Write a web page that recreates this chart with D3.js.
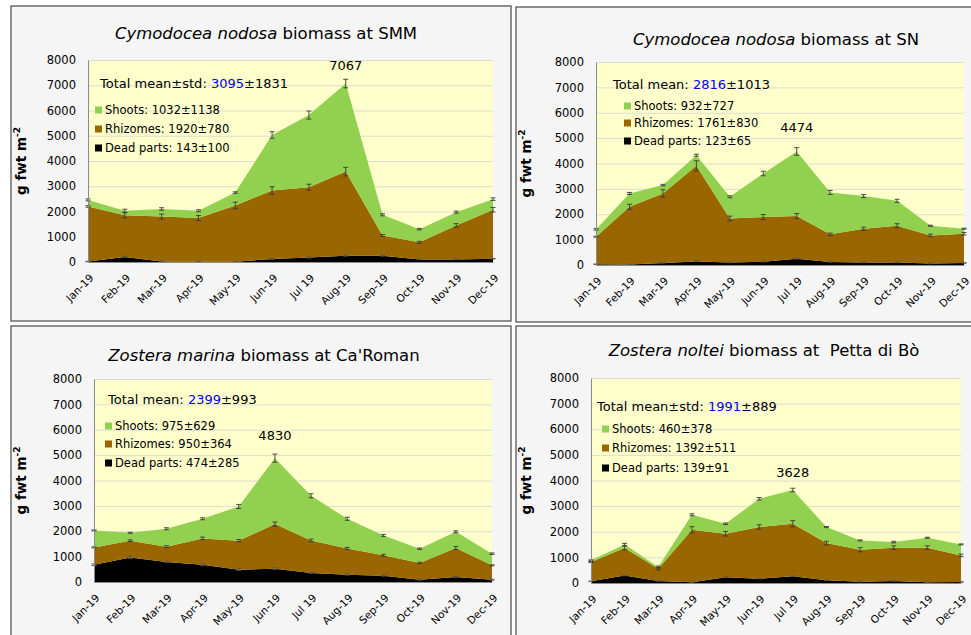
<!DOCTYPE html>
<html>
  <head>
    <meta charset="utf-8">
    <title>Seagrass biomass 2019</title>
    <style>
      body { margin: 0; background: #ffffff; }
      text { font-family: "DejaVu Sans", Verdana, sans-serif; }
    </style>
  </head>
  <body>
    <script src="https://cdn.jsdelivr.net/npm/d3@7"></script>
    <script type="text/javascript">
      var months = ["Jan-19", "Feb-19", "Mar-19", "Apr-19", "May-19", "Jun-19",
                    "Jul 19", "Aug-19", "Sep-19", "Oct-19", "Nov-19", "Dec-19"];
      var yTicks = [0, 1000, 2000, 3000, 4000, 5000, 6000, 7000, 8000];

      // Cymodocea nodosa, SMM
      var smmDead   = [20, 200, 20, 10, 10, 120, 180, 250, 250, 100, 100, 130];
      var smmRhiz   = [2180, 1650, 1780, 1730, 2230, 2710, 2780, 3330, 800, 680, 1350, 1940];
      var smmShoots = [260, 180, 300, 290, 510, 2200, 2860, 3487, 820, 520, 525, 420];
      var smmErrDead  = [10, 20, 10, 10, 10, 20, 20, 20, 20, 10, 10, 10];
      var smmErrRhiz  = [30, 100, 100, 100, 130, 150, 120, 170, 40, 40, 70, 90];
      var smmErrTotal = [40, 60, 50, 40, 30, 130, 160, 170, 40, 30, 40, 50];

      // Cymodocea nodosa, SN
      var snDead   = [30, 20, 80, 140, 100, 130, 250, 120, 100, 100, 60, 80];
      var snRhiz   = [1085, 2275, 2740, 3768, 1736, 1759, 1678, 1087, 1330, 1448, 1107, 1153];
      var snShoots = [288, 525, 328, 420, 853, 1718, 2546, 1652, 1285, 983, 381, 197];
      var snErrDead  = [10, 10, 10, 10, 10, 10, 20, 10, 10, 10, 10, 10];
      var snErrRhiz  = [20, 100, 150, 200, 90, 100, 100, 50, 60, 80, 50, 50];
      var snErrTotal = [30, 40, 30, 40, 40, 90, 150, 80, 60, 60, 20, 20];

      // Zostera marina, Ca'Roman
      var crDead   = [680, 970, 790, 680, 485, 525, 354, 290, 250, 90, 200, 90];
      var crRhiz   = [684, 656, 600, 1038, 1141, 1757, 1286, 1035, 800, 660, 1138, 566];
      var crShoots = [669, 315, 708, 774, 1351, 2599, 1757, 1167, 786, 561, 642, 459];
      var crErrDead  = [30, 50, 30, 40, 30, 30, 20, 20, 20, 20, 20, 20];
      var crErrRhiz  = [20, 30, 40, 50, 50, 80, 50, 40, 40, 30, 60, 20];
      var crErrTotal = [20, 20, 40, 40, 80, 160, 80, 60, 40, 30, 40, 30];

      // Zostera noltei, Petta di Bò
      var pbDead   = [65, 290, 80, 26, 220, 169, 260, 104, 52, 78, 26, 39];
      var pbRhiz   = [753, 1074, 478, 2052, 1702, 2013, 2052, 1454, 1247, 1299, 1351, 1039];
      var pbShoots = [65, 142, 65, 584, 390, 1104, 1316, 624, 363, 220, 389, 428];
      var pbErrDead  = [10, 10, 10, 10, 10, 10, 10, 10, 10, 10, 10, 10];
      var pbErrRhiz  = [20, 80, 50, 120, 90, 90, 120, 70, 80, 70, 70, 50];
      var pbErrTotal = [20, 40, 40, 40, 30, 50, 70, 20, 20, 30, 20, 20];

      var layerKeys = ["dead", "rhiz", "shoots"];
      var layerColors = { dead: "#000000", rhiz: "#996600", shoots: "#92d050" };

      var panels = [
        { species: "Cymodocea nodosa", site: " biomass at SMM",
          dead: smmDead, rhiz: smmRhiz, shoots: smmShoots,
          errDead: smmErrDead, errRhiz: smmErrRhiz, errTotal: smmErrTotal,
          totalLabel: "Total mean\u00b1std: ", mean: "3095", std: "\u00b11831",
          legend: ["Shoots: 1032\u00b11138", "Rhizomes: 1920\u00b1780", "Dead parts: 143\u00b1100"],
          peak: 7, peakText: "7067", peakDy: -14,
          frame: [11, 6, 500, 315], plot: [88, 60, 493, 262],
          titleX: 266, titleY: 39, totalX: 100, totalY: 88, legX: 95, legY: [110, 129, 148] },
        { species: "Cymodocea nodosa", site: " biomass at SN",
          dead: snDead, rhiz: snRhiz, shoots: snShoots,
          errDead: snErrDead, errRhiz: snErrRhiz, errTotal: snErrTotal,
          totalLabel: "Total mean: ", mean: "2816", std: "\u00b11013",
          legend: ["Shoots: 932\u00b1727", "Rhizomes: 1761\u00b1830", "Dead parts: 123\u00b165"],
          peak: 6, peakText: "4474", peakDy: -19,
          frame: [516, 7, 470, 315], plot: [596, 62, 964, 265],
          titleX: 776, titleY: 45, totalX: 613, totalY: 89, legX: 624, legY: [106, 123, 141] },
        { species: "Zostera marina", site: " biomass at Ca'Roman",
          dead: crDead, rhiz: crRhiz, shoots: crShoots,
          errDead: crErrDead, errRhiz: crErrRhiz, errTotal: crErrTotal,
          totalLabel: "Total mean: ", mean: "2399", std: "\u00b1993",
          legend: ["Shoots: 975\u00b1629", "Rhizomes: 950\u00b1364", "Dead parts: 474\u00b1285"],
          peak: 5, peakText: "4830", peakDy: -18,
          frame: [11, 326, 500, 330], plot: [94, 379, 492, 582],
          titleX: 264, titleY: 361, totalX: 108, totalY: 404, legX: 105, legY: [426, 444, 463] },
        { species: "Zostera noltei", site: " biomass at \u00a0Petta di B\u00f2",
          dead: pbDead, rhiz: pbRhiz, shoots: pbShoots,
          errDead: pbErrDead, errRhiz: pbErrRhiz, errTotal: pbErrTotal,
          totalLabel: "Total mean\u00b1std: ", mean: "1991", std: "\u00b1889",
          legend: ["Shoots: 460\u00b1378", "Rhizomes: 1392\u00b1511", "Dead parts: 139\u00b191"],
          peak: 6, peakText: "3628", peakDy: -13,
          frame: [516, 326, 470, 330], plot: [591, 378, 961, 583],
          titleX: 764, titleY: 356, totalX: 597, totalY: 411, legX: 602, legY: [429, 448, 468] }
      ];

      var width = 971;
      var height = 635;
      var svg = d3.select("body")
                  .append("svg")
                  .attr("width", width)
                  .attr("height", height);

      panels.forEach(drawPanel);

      function drawPanel(p) {
        var g = svg.append("g");
        var left = p.plot[0], top = p.plot[1], right = p.plot[2], bottom = p.plot[3];

        g.append("rect")
         .attr("x", p.frame[0]).attr("y", p.frame[1])
         .attr("width", p.frame[2]).attr("height", p.frame[3])
         .attr("fill", "#f5f5f5")
         .attr("stroke", "#555555")
         .attr("stroke-width", 1.3);

        var x = d3.scalePoint().domain(months).range([left, right]);
        var y = d3.scaleLinear().domain([0, 8000]).range([bottom, top]);

        g.append("rect")
         .attr("x", left).attr("y", top)
         .attr("width", right - left).attr("height", bottom - top)
         .attr("fill", "#ffffcc");

        // gridlines
        g.append("g")
         .attr("transform", "translate(" + left + ",0)")
         .call(d3.axisLeft(y).tickValues(yTicks).tickSize(-(right - left)).tickFormat(""))
         .call(function(a) {
           a.select(".domain").remove();
           a.selectAll("line").attr("stroke", "#dcdcd0").attr("stroke-width", 1);
         });

        var rows = months.map(function(m, i) {
          return { month: m, dead: p.dead[i], rhiz: p.rhiz[i], shoots: p.shoots[i] };
        });
        var series = d3.stack().keys(layerKeys)(rows);

        var area = d3.area()
                     .x(function(d) { return x(d.data.month); })
                     .y0(function(d) { return y(d[0]); })
                     .y1(function(d) { return y(d[1]); });

        g.selectAll("path.layer")
         .data(series)
         .enter()
         .append("path")
         .attr("class", "layer")
         .attr("fill", function(s) { return layerColors[s.key]; })
         .attr("d", area);

        // error bars on each stacked top
        var errs = { dead: p.errDead, rhiz: p.errRhiz, shoots: p.errTotal };
        series.forEach(function(s) {
          var e = errs[s.key];
          var eg = g.append("g")
                    .attr("stroke", s.key === "dead" ? "#555555" : "#3a3a3a")
                    .attr("stroke-width", 0.9);
          s.forEach(function(d, i) {
            var cx = x(d.data.month);
            var y1 = y(d[1] + e[i]), y2 = y(Math.max(0, d[1] - e[i]));
            eg.append("line").attr("x1", cx).attr("x2", cx).attr("y1", y1).attr("y2", y2);
            eg.append("line").attr("x1", cx - 2.5).attr("x2", cx + 2.5).attr("y1", y1).attr("y2", y1);
            eg.append("line").attr("x1", cx - 2.5).attr("x2", cx + 2.5).attr("y1", y2).attr("y2", y2);
          });
        });

        // axes
        g.append("g")
         .attr("transform", "translate(" + left + ",0)")
         .call(d3.axisLeft(y).tickValues(yTicks).tickSize(0).tickPadding(12).tickFormat(d3.format("d")))
         .call(function(a) {
           a.select(".domain").attr("stroke", "#8a8a8a");
           a.selectAll("text").attr("font-size", 11.5).attr("fill", "#000");
         });

        g.append("g")
         .attr("transform", "translate(0," + bottom + ")")
         .call(d3.axisBottom(x).tickSize(0).tickPadding(0))
         .call(function(a) {
           a.select(".domain").attr("stroke", "#8a8a8a");
           a.selectAll("text")
            .attr("font-size", 10.5)
            .attr("fill", "#000")
            .attr("text-anchor", "end")
            .attr("dy", "0.35em")
            .attr("transform", "translate(3,14) rotate(-45)");
         });

        // y label
        var yl = g.append("text")
                  .attr("transform", "translate(" + (p.frame[0] + 15) + "," + ((top + bottom) / 2) + ") rotate(-90)")
                  .attr("text-anchor", "middle")
                  .attr("font-size", 13.5)
                  .attr("font-weight", "bold");
        yl.append("tspan").text("g fwt m");
        yl.append("tspan").attr("dy", -6).attr("font-size", 9).text("-2");

        // title
        var t = g.append("text")
                 .attr("x", p.titleX).attr("y", p.titleY)
                 .attr("text-anchor", "middle")
                 .attr("font-size", 16.5);
        t.append("tspan").attr("font-style", "italic").text(p.species);
        t.append("tspan").text(p.site);

        // total mean
        var tm = g.append("text")
                  .attr("x", p.totalX).attr("y", p.totalY)
                  .attr("font-size", 13);
        tm.append("tspan").text(p.totalLabel);
        tm.append("tspan").attr("fill", "#0000ee").text(p.mean);
        tm.append("tspan").text(p.std);

        // legend
        layerKeys.slice().reverse().forEach(function(k, i) {
          g.append("rect")
           .attr("x", p.legX).attr("y", p.legY[i] - 3.5)
           .attr("width", 7).attr("height", 7)
           .attr("fill", layerColors[k]);
          g.append("text")
           .attr("x", p.legX + 10).attr("y", p.legY[i])
           .attr("dy", "0.35em")
           .attr("font-size", 11.5)
           .text(p.legend[i]);
        });

        // peak label
        var pk = series[2][p.peak];
        g.append("text")
         .attr("x", x(months[p.peak]))
         .attr("y", y(pk[1]) + p.peakDy)
         .attr("text-anchor", "middle")
         .attr("font-size", 13)
         .text(p.peakText);
      }
    </script>
  </body>
</html>
